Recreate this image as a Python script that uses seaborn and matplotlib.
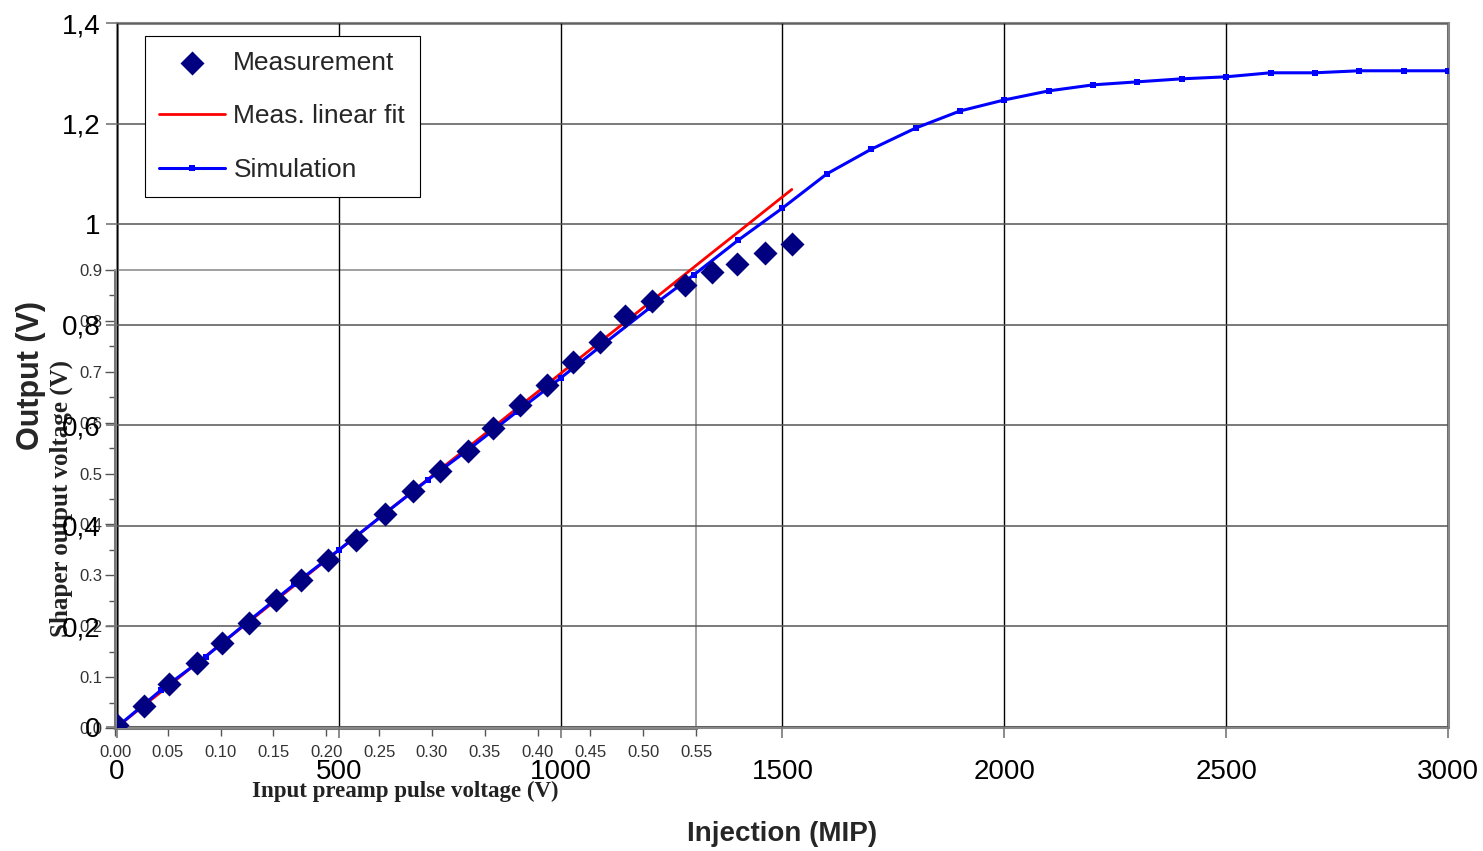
import matplotlib
matplotlib.use("Agg")
import matplotlib.pyplot as plt
import seaborn as sns
from matplotlib.ticker import MultipleLocator, FormatStrFormatter, FuncFormatter

# measurement points (injection in MIP, output in V)
meas_x = [0, 61, 117, 180, 237, 297, 358, 415, 476, 539, 604, 667, 728, 791, 848,
          909, 969, 1028, 1089, 1145, 1206, 1280, 1341, 1397, 1461, 1521]
meas_y = [0.004, 0.042, 0.086, 0.127, 0.167, 0.207, 0.253, 0.292, 0.332, 0.372, 0.424,
          0.469, 0.509, 0.549, 0.595, 0.640, 0.680, 0.726, 0.766, 0.817, 0.847, 0.879,
          0.905, 0.921, 0.943, 0.961]

# linear fit of the measurement
fit_y = [0.0, 0.043, 0.082, 0.127, 0.167, 0.209, 0.252, 0.292, 0.335, 0.379, 0.425,
         0.469, 0.512, 0.556, 0.596, 0.639, 0.681, 0.723, 0.766, 0.805, 0.848, 0.900,
         0.943, 0.982, 1.027, 1.069]

# simulation
sim_x = [0, 100, 200, 300, 400, 500, 600, 700, 800, 900, 1000, 1100, 1200, 1300, 1400,
         1500, 1600, 1700, 1800, 1900, 2000, 2100, 2200, 2300, 2400, 2500, 2600, 2700,
         2800, 2900, 3000]
sim_y = [0.0, 0.074, 0.140, 0.213, 0.284, 0.352, 0.422, 0.491, 0.557, 0.626, 0.694,
         0.764, 0.833, 0.899, 0.968, 1.032, 1.100, 1.149, 1.191, 1.225, 1.247, 1.265,
         1.277, 1.283, 1.289, 1.293, 1.301, 1.301, 1.305, 1.305, 1.305]

sns.set_style("white")
plt.rcParams['font.family'] = ['Liberation Sans', 'DejaVu Sans']

fig = plt.figure(figsize=(14.83, 8.51), dpi=100)
fig.patch.set_facecolor("white")

# old overlaid plot (preamp pulse voltage), drawn underneath
ins = fig.add_axes([0.07755, 0.14454, 0.39178, 0.53819])
ins.set_facecolor("none")
ins.set_xlim(0, 0.55)
ins.set_ylim(0, 0.9)
ins.xaxis.set_major_locator(MultipleLocator(0.05))
ins.yaxis.set_major_locator(MultipleLocator(0.1))
ins.yaxis.set_minor_locator(MultipleLocator(0.05))
ins.xaxis.set_major_formatter(FormatStrFormatter("%.2f"))
ins.yaxis.set_major_formatter(FormatStrFormatter("%.1f"))
ins.tick_params(axis="both", which="both", direction="out", colors="#555555",
                labelcolor="#333333", labelsize=12)
ins.tick_params(axis="y", which="major", length=7, width=1, pad=2, left=True)
ins.tick_params(axis="y", which="minor", length=4, width=1, left=True)
ins.tick_params(axis="x", which="major", length=6, width=1, pad=6, bottom=True)
for side in ["left", "bottom"]:
    ins.spines[side].set_color("#777777")
    ins.spines[side].set_linewidth(2.2)
for side in ["top", "right"]:
    ins.spines[side].set_color("#999999")
    ins.spines[side].set_linewidth(1.3)
ins.set_xlabel("Input preamp pulse voltage (V)", family=["Liberation Serif"],
               fontweight="bold", fontsize=16.5, color="#222222")
ins.xaxis.set_label_coords(0.5, -0.1157)
ins.set_ylabel("Shaper output voltage (V)", family=["Liberation Serif"],
               fontweight="bold", fontsize=18, color="#222222")
ins.yaxis.set_label_coords(-0.0723, 0.5)

# main chart
ax = fig.add_axes([0.07889, 0.14571, 0.89750, 0.82726])
ax.set_facecolor("none")

sns.lineplot(x=meas_x, y=fit_y, ax=ax, color="#ff0000", linewidth=2.0,
             label="Meas. linear fit", zorder=3)
sns.lineplot(x=sim_x, y=sim_y, ax=ax, color="#0000ff", linewidth=2.2, marker="s",
             markersize=4, markeredgewidth=0, label="Simulation", zorder=4)
sns.scatterplot(x=meas_x, y=meas_y, ax=ax, color="#000080", marker="D", s=150,
                linewidth=0, label="Measurement", zorder=5)

ax.set_xlim(0, 3000)
ax.set_ylim(0, 1.4)
ax.xaxis.set_major_locator(MultipleLocator(500))
ax.yaxis.set_major_locator(MultipleLocator(0.2))
ax.yaxis.set_major_formatter(FuncFormatter(lambda v, p: f"{v:.1f}".replace(".0", "").replace(".", ",")))
ax.tick_params(axis="both", labelsize=20, colors="#777777", labelcolor="black",
               length=8, width=1.2, left=True, bottom=True)
ax.tick_params(axis="x", pad=15)
ax.tick_params(axis="y", pad=4)
ax.grid(True, axis="x", color="black", linewidth=1.0)
ax.grid(True, axis="y", color="#555555", linewidth=1.1)
ax.set_axisbelow(False)
for side in ["top", "right", "left", "bottom"]:
    ax.spines[side].set_color("#888888")
    ax.spines[side].set_linewidth(2.2)

ax.set_xlabel("Injection (MIP)", fontsize=20, fontweight="bold")
ax.xaxis.set_label_coords(0.5, -0.133)
ax.set_ylabel("Output (V)", fontsize=22, fontweight="bold")
ax.yaxis.set_label_coords(-0.053, 0.5)

handles, labels = ax.get_legend_handles_labels()
order = [labels.index("Measurement"), labels.index("Meas. linear fit"), labels.index("Simulation")]
leg = ax.legend([handles[i] for i in order], [labels[i] for i in order],
                loc="upper left", bbox_to_anchor=(0.021, 0.9815), borderaxespad=0,
                fontsize=19, frameon=True, fancybox=False, edgecolor="black",
                framealpha=1, handlelength=2.5, handletextpad=0.3,
                labelspacing=1.13, borderpad=0.55)
leg.get_frame().set_linewidth(0.8)

fig.savefig("out.png", dpi=100, facecolor="white")
